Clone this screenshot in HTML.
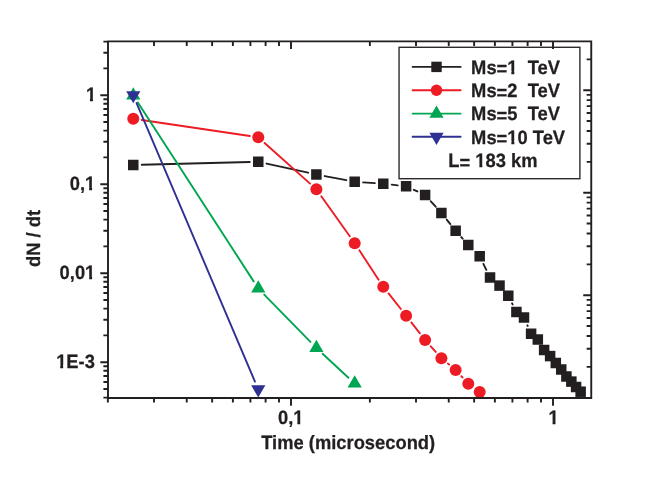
<!DOCTYPE html>
<html><head><meta charset="utf-8"><title>chart</title>
<style>html,body{margin:0;padding:0;background:#fff;}svg{display:block;}text{font-family:"Liberation Sans",sans-serif;font-weight:bold;fill:#231f20;stroke:#231f20;stroke-width:0.25px;text-rendering:geometricPrecision;}.t{opacity:0.999;}</style>
</head><body>
<svg width="654" height="480" viewBox="0 0 654 480">
<rect x="0" y="0" width="654" height="480" fill="#ffffff"/>
<g id="series">
<path d="M141.76 164.78L249.77 161.97M266.57 163.57L308.09 172.68M324.74 176.08L346.32 180.17M363.16 182.34L374.79 183.16M391.72 184.68L397.66 185.32M413.83 189.8L417.39 191.45M430.82 201.3L435.69 206.7M446.72 219.63L450.32 224.12M461.28 237.11L462.65 238.64M483.4 263.89L486.31 269.86M512.08 303.35L512.61 304.4M527.41 325.29L527.7 325.96" stroke="#231f20" stroke-width="1.9" stroke-linecap="round" fill="none"/>
<g fill="#231f20"><rect x="128.01" y="159.75" width="10.5" height="10.5"/><rect x="253.02" y="156.5" width="10.5" height="10.5"/><rect x="311.14" y="169.25" width="10.5" height="10.5"/><rect x="349.43" y="176.5" width="10.5" height="10.5"/><rect x="378.02" y="178.5" width="10.5" height="10.5"/><rect x="400.86" y="181" width="10.5" height="10.5"/><rect x="419.86" y="189.75" width="10.5" height="10.5"/><rect x="436.15" y="207.75" width="10.5" height="10.5"/><rect x="450.39" y="225.5" width="10.5" height="10.5"/><rect x="463.04" y="239.75" width="10.5" height="10.5"/><rect x="474.43" y="251" width="10.5" height="10.5"/><rect x="484.78" y="272.25" width="10.5" height="10.5"/><rect x="494.27" y="280.35" width="10.5" height="10.5"/><rect x="503.03" y="290.5" width="10.5" height="10.5"/><rect x="511.16" y="306.75" width="10.5" height="10.5"/><rect x="518.75" y="312.25" width="10.5" height="10.5"/><rect x="525.86" y="328.5" width="10.5" height="10.5"/><rect x="532.56" y="334.25" width="10.5" height="10.5"/><rect x="538.88" y="344.75" width="10.5" height="10.5"/><rect x="544.87" y="350.85" width="10.5" height="10.5"/><rect x="550.56" y="357.75" width="10.5" height="10.5"/><rect x="555.98" y="364.25" width="10.5" height="10.5"/><rect x="561.15" y="371.25" width="10.5" height="10.5"/><rect x="566.1" y="376.35" width="10.5" height="10.5"/><rect x="570.84" y="381.75" width="10.5" height="10.5"/><rect x="575.39" y="386.45" width="10.5" height="10.5"/></g>
<path d="M141.67 120L249.86 136.05M264.6 142.96L310.05 183.59M321.31 196.18L349.76 236.32M359.35 250.35L378.6 279.65M388.54 293.42L400.84 309.03M411.34 322.4L419.88 333.3M430.78 346.33L435.73 351.87M447.94 363.62L449.09 364.58M461.41 376.24L462.53 377.46" stroke="#ed1c24" stroke-width="1.9" stroke-linecap="round" fill="none"/>
<g fill="#ed1c24"><circle cx="133.26" cy="118.75" r="6"/><circle cx="258.27" cy="137.3" r="6"/><circle cx="316.39" cy="189.25" r="6"/><circle cx="354.68" cy="243.25" r="6"/><circle cx="383.27" cy="286.75" r="6"/><circle cx="406.11" cy="315.7" r="6"/><circle cx="425.11" cy="340" r="6"/><circle cx="441.4" cy="358.2" r="6"/><circle cx="455.64" cy="370" r="6"/><circle cx="468.29" cy="383.7" r="6"/><circle cx="479.68" cy="392" r="6"/></g>
<path d="M137.88 102.54L253.65 281.36M264.21 294.58L310.45 341.92M322.62 353.78L348.44 377.72" stroke="#00a651" stroke-width="1.9" stroke-linecap="round" fill="none"/>
<g fill="#00a651"><path d="M133.26 87.27L140.36 99.47L126.16 99.47Z"/><path d="M258.27 280.37L265.37 292.57L251.17 292.57Z"/><path d="M316.39 339.87L323.49 352.07L309.29 352.07Z"/><path d="M354.68 375.37L361.78 387.57L347.58 387.57Z"/></g>
<path d="M136.58 103.02L254.94 381.58" stroke="#2e3192" stroke-width="1.9" stroke-linecap="round" fill="none"/>
<g fill="#2e3192"><path d="M133.26 103.33L140.36 91.13L126.16 91.13Z"/><path d="M258.27 397.53L265.37 385.33L251.17 385.33Z"/></g>
</g>
<rect x="399.05" y="47.3" width="180.85" height="131.4" fill="#ffffff" stroke="#2e2a2b" stroke-width="1.4"/>
<path d="M412.6 66.9H460.6" stroke="#231f20" stroke-width="1.9" stroke-linecap="round"/>
<g fill="#231f20"><rect x="431.3" y="61.7" width="10.4" height="10.4"/></g>
<path d="M412.6 90.2H460.6" stroke="#ed1c24" stroke-width="1.9" stroke-linecap="round"/>
<g fill="#ed1c24"><circle cx="436.5" cy="90.2" r="5.75"/></g>
<path d="M412.6 113.6H460.6" stroke="#00a651" stroke-width="1.9" stroke-linecap="round"/>
<g fill="#00a651"><path d="M436.5 105.47L443.6 117.67L429.4 117.67Z"/></g>
<path d="M412.6 136.8H460.6" stroke="#2e3192" stroke-width="1.9" stroke-linecap="round"/>
<g fill="#2e3192"><path d="M436.5 144.93L443.6 132.73L429.4 132.73Z"/></g>
<path d="M108 41.4H591.25V398H108ZM107.87 398v4.6M154.01 398v4.6M154.01 41.4v4.6M186.74 398v4.6M186.74 41.4v4.6M212.13 398v4.6M212.13 41.4v4.6M232.88 398v4.6M232.88 41.4v4.6M250.42 398v4.6M250.42 41.4v4.6M265.61 398v4.6M265.61 41.4v4.6M279.01 398v4.6M279.01 41.4v4.6M291 398v7.7M291 41.4v7.7M369.87 398v4.6M369.87 41.4v4.6M416.01 398v4.6M416.01 41.4v4.6M448.74 398v4.6M448.74 41.4v4.6M474.13 398v4.6M474.13 41.4v4.6M494.88 398v4.6M494.88 41.4v4.6M512.42 398v4.6M512.42 41.4v4.6M527.61 398v4.6M527.61 41.4v4.6M541.01 398v4.6M541.01 41.4v4.6M553 398v7.7M553 41.4v7.7M108 397.62h-4.6M108 388.99h-4.6M108 381.94h-4.6M108 375.99h-4.6M108 370.82h-4.6M108 366.27h-4.6M108 362.2h-7.7M108 335.41h-4.6M108 319.74h-4.6M108 308.62h-4.6M108 299.99h-4.6M108 292.94h-4.6M108 286.99h-4.6M108 281.82h-4.6M108 277.27h-4.6M108 273.2h-7.7M108 246.41h-4.6M108 230.74h-4.6M108 219.62h-4.6M108 210.99h-4.6M108 203.94h-4.6M108 197.99h-4.6M108 192.82h-4.6M108 188.27h-4.6M108 184.2h-7.7M108 157.41h-4.6M108 141.74h-4.6M108 130.62h-4.6M108 121.99h-4.6M108 114.94h-4.6M108 108.99h-4.6M108 103.82h-4.6M108 99.27h-4.6M108 95.2h-7.7M108 68.41h-4.6M108 52.74h-4.6M108 41.62h-4.6M591.25 90.2h-8M591.25 59.34h-4.6M591.25 192.7h-8M591.25 161.84h-4.6M591.25 143.8h-4.6M591.25 130.99h-4.6M591.25 121.06h-4.6M591.25 112.94h-4.6M591.25 106.08h-4.6M591.25 100.13h-4.6M591.25 94.89h-4.6M591.25 295.2h-8M591.25 264.34h-4.6M591.25 246.3h-4.6M591.25 233.49h-4.6M591.25 223.56h-4.6M591.25 215.44h-4.6M591.25 208.58h-4.6M591.25 202.63h-4.6M591.25 197.39h-4.6M591.25 366.84h-4.6M591.25 348.8h-4.6M591.25 335.99h-4.6M591.25 326.06h-4.6M591.25 317.94h-4.6M591.25 311.08h-4.6M591.25 305.13h-4.6M591.25 299.89h-4.6" stroke="#231f20" stroke-width="1.9" fill="none" stroke-linecap="butt" stroke-linejoin="miter"/>
<g class="t">
<text transform="translate(96.1 100.6) scale(1 1.05)" font-size="18.35" text-anchor="end" xml:space="preserve">1</text>
<text transform="translate(95.3 189.6) scale(1 1.05)" font-size="18.35" text-anchor="end" xml:space="preserve">0,1</text>
<text transform="translate(95.3 278.6) scale(1 1.05)" font-size="18.35" text-anchor="end" xml:space="preserve">0,01</text>
<text transform="translate(94.9 367.6) scale(1 1.05)" font-size="18.35" text-anchor="end" xml:space="preserve">1E-3</text>
<text transform="translate(290.7 424.2) scale(1 1.05)" font-size="18.35" text-anchor="middle" xml:space="preserve">0,1</text>
<text transform="translate(553.6 424.3) scale(1 1.05)" font-size="18.35" text-anchor="middle" xml:space="preserve">1</text>
<text transform="translate(348.2 449.4) scale(1 1.05)" font-size="18.35" text-anchor="middle" xml:space="preserve">Time (microsecond)</text>
<text transform="translate(40.4 238.5) rotate(-90) scale(1 1.05)" font-size="18.35" text-anchor="middle">dN / dt</text>
<text transform="translate(471.1 73.6) scale(1 1.05)" font-size="18.35" text-anchor="start" xml:space="preserve">Ms<tspan dy="1.7">=</tspan><tspan dy="-1.7">1&#160;&#160;TeV</tspan></text>
<text transform="translate(471.1 96.9) scale(1 1.05)" font-size="18.35" text-anchor="start" xml:space="preserve">Ms<tspan dy="1.7">=</tspan><tspan dy="-1.7">2&#160;&#160;TeV</tspan></text>
<text transform="translate(471.1 120.3) scale(1 1.05)" font-size="18.35" text-anchor="start" xml:space="preserve">Ms<tspan dy="1.7">=</tspan><tspan dy="-1.7">5&#160;&#160;TeV</tspan></text>
<text transform="translate(471.1 143.5) scale(1 1.05)" font-size="18.35" text-anchor="start" xml:space="preserve">Ms<tspan dy="1.7">=</tspan><tspan dy="-1.7">10 TeV</tspan></text>
<text transform="translate(448.3 167.3) scale(1 1.05)" font-size="18.35" text-anchor="start" xml:space="preserve">L<tspan dy="1.7">=</tspan><tspan dy="-1.7"> 183 km</tspan></text>
</g>
<g fill="#ffffff" id="covers">
<rect transform="translate(96.1 100.6) scale(1 1.05)" x="-12" y="-2.46" width="5.85" height="4.06"/>
<rect transform="translate(96.1 100.6) scale(1 1.05)" x="-3.18" y="-2.46" width="5.52" height="4.06"/>
<rect transform="translate(95.3 189.6) scale(1 1.05)" x="-10.04" y="-2.46" width="3.88" height="4.06"/>
<rect transform="translate(95.3 189.6) scale(1 1.05)" x="-3.2" y="-2.46" width="5.52" height="4.06"/>
<rect transform="translate(95.3 278.6) scale(1 1.05)" x="-10.02" y="-2.46" width="3.88" height="4.06"/>
<rect transform="translate(95.3 278.6) scale(1 1.05)" x="-3.18" y="-2.46" width="5.52" height="4.06"/>
<rect transform="translate(94.9 367.6) scale(1 1.05)" x="-40.54" y="-2.46" width="5.85" height="4.06"/>
<rect transform="translate(94.9 367.6) scale(1 1.05)" x="-31.73" y="-2.46" width="3.51" height="4.06"/>
<rect transform="translate(290.7 424.2) scale(1 1.05)" x="2.72" y="-2.46" width="3.88" height="4.06"/>
<rect transform="translate(290.7 424.2) scale(1 1.05)" x="9.56" y="-2.46" width="5.52" height="4.06"/>
<rect transform="translate(553.6 424.3) scale(1 1.05)" x="-6.89" y="-2.46" width="5.85" height="4.06"/>
<rect transform="translate(553.6 424.3) scale(1 1.05)" x="1.92" y="-2.46" width="5.52" height="4.06"/>
<rect transform="translate(471.1 73.6) scale(1 1.05)" x="36.38" y="-2.46" width="3.88" height="4.06"/>
<rect transform="translate(471.1 73.6) scale(1 1.05)" x="43.22" y="-2.46" width="5.52" height="4.06"/>
<rect transform="translate(471.1 143.5) scale(1 1.05)" x="36.38" y="-2.46" width="3.88" height="4.06"/>
<rect transform="translate(471.1 143.5) scale(1 1.05)" x="43.22" y="-2.46" width="3.51" height="4.06"/>
<rect transform="translate(448.3 167.3) scale(1 1.05)" x="25.24" y="-2.46" width="5.85" height="4.06"/>
<rect transform="translate(448.3 167.3) scale(1 1.05)" x="34.05" y="-2.46" width="3.51" height="4.06"/>
</g>
</svg></body></html>
